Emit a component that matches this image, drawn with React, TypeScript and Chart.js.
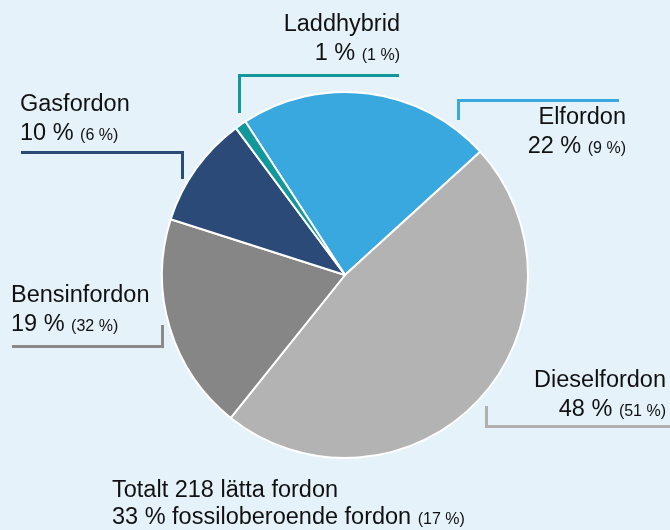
import React, { useEffect, useRef } from "react";
import { Chart, registerables } from "chart.js";

Chart.register(...registerables);

const categories = ["Elfordon", "Dieselfordon", "Bensinfordon", "Gasfordon", "Laddhybrid"];
const shares = [22.4, 47.5, 19.2, 9.9, 1.0];
const shareLabels = ["22 %", "48 %", "19 %", "10 %", "1 %"];
const prevLabels = ["(9 %)", "(51 %)", "(32 %)", "(6 %)", "(1 %)"];
const colors = ["#39a8df", "#b3b3b3", "#868686", "#2b4a77", "#12979a"];
const lineColors = ["#39a8df", "#b0b0b0", "#8a8a8a", "#2b4a77", "#12979a"];
const totalLine1 = "Totalt 218 lätta fordon";
const totalLine2 = "33 % fossiloberoende fordon";
const totalPrev = "(17 %)";

const BG = "#e5f2fa";
const FONT = "'Liberation Sans', Arial, sans-serif";
const FS = 23.5;
const SMALL = 16;
const ASC = 0.905 * FS;
const LH = 29;
const BASE_OFF = (LH - 1.117 * FS) / 2 + ASC;

type LabelPos = { idx: number; x: number; align: "left" | "right"; baseline: number };
const labelPos: LabelPos[] = [
  { idx: 4, x: 400, align: "right", baseline: 32 },
  { idx: 0, x: 626, align: "right", baseline: 125 },
  { idx: 3, x: 20, align: "left", baseline: 112 },
  { idx: 2, x: 11, align: "left", baseline: 303 },
  { idx: 1, x: 666, align: "right", baseline: 388 },
];

type Leader = { idx: number; hx1: number; hx2: number; hy: number; vx: number; vy1: number; vy2: number };
const leaders: Leader[] = [
  { idx: 4, hx1: 238, hx2: 399, hy: 73.5, vx: 238, vy1: 73.5, vy2: 113 },
  { idx: 0, hx1: 457, hx2: 619, hy: 98.5, vx: 457, vy1: 98.5, vy2: 120 },
  { idx: 3, hx1: 21, hx2: 183.5, hy: 151, vx: 180.5, vy1: 151, vy2: 179 },
  { idx: 2, hx1: 12, hx2: 163.5, hy: 344.5, vx: 160.5, vy1: 325, vy2: 347 },
  { idx: 1, hx1: 485, hx2: 670, hy: 424.5, vx: 485, vy1: 406, vy2: 427 },
];

const TH = 3;

export default function App() {
  const ref = useRef<HTMLCanvasElement | null>(null);

  useEffect(() => {
    if (!ref.current) return;
    const chart = new Chart(ref.current, {
      type: "pie",
      data: {
        labels: categories,
        datasets: [
          {
            data: shares,
            backgroundColor: colors,
            borderColor: "#ffffff",
            borderWidth: 2,
            hoverOffset: 0,
          },
        ],
      },
      options: {
        responsive: false,
        animation: false,
        rotation: -33,
        layout: { padding: { left: 161, top: 91, right: 141, bottom: 71 } },
        plugins: { legend: { display: false }, tooltip: { enabled: false } },
      },
    });
    return () => chart.destroy();
  }, []);

  return (
    <div
      style={{
        position: "fixed",
        left: 0,
        top: 0,
        width: 670,
        height: 530,
        background: BG,
        fontFamily: FONT,
        color: "#111",
        overflow: "hidden",
      }}
    >
      <canvas ref={ref} width={670} height={530} style={{ position: "absolute", left: 0, top: 0, width: 670, height: 530 }} />
      {leaders.map((l, i) => (
        <React.Fragment key={"l" + i}>
          <div
            style={{
              position: "absolute",
              left: l.hx1,
              top: l.hy,
              width: l.hx2 - l.hx1,
              height: TH,
              background: lineColors[l.idx],
            }}
          />
          <div
            style={{
              position: "absolute",
              left: l.vx,
              top: l.vy1,
              width: TH,
              height: l.vy2 - l.vy1,
              background: lineColors[l.idx],
            }}
          />
        </React.Fragment>
      ))}
      {labelPos.map((p, i) => (
        <div
          key={"t" + i}
          style={{
            position: "absolute",
            top: p.baseline - BASE_OFF,
            ...(p.align === "left" ? { left: p.x } : { right: 670 - p.x }),
            textAlign: p.align,
            fontSize: FS,
            lineHeight: LH + "px",
            whiteSpace: "nowrap",
          }}
        >
          <div>{categories[p.idx]}</div>
          <div>
            {shareLabels[p.idx]}{" "}
            <span style={{ fontSize: SMALL, lineHeight: 1 }}>{prevLabels[p.idx]}</span>
          </div>
        </div>
      ))}
      <div
        style={{
          position: "absolute",
          left: 112,
          top: 498 - ((27 - 1.117 * FS) / 2 + ASC),
          fontSize: FS,
          lineHeight: "27px",
          whiteSpace: "nowrap",
        }}
      >
        <div>{totalLine1}</div>
        <div>
          {totalLine2} <span style={{ fontSize: SMALL, lineHeight: 1 }}>{totalPrev}</span>
        </div>
      </div>
    </div>
  );
}
